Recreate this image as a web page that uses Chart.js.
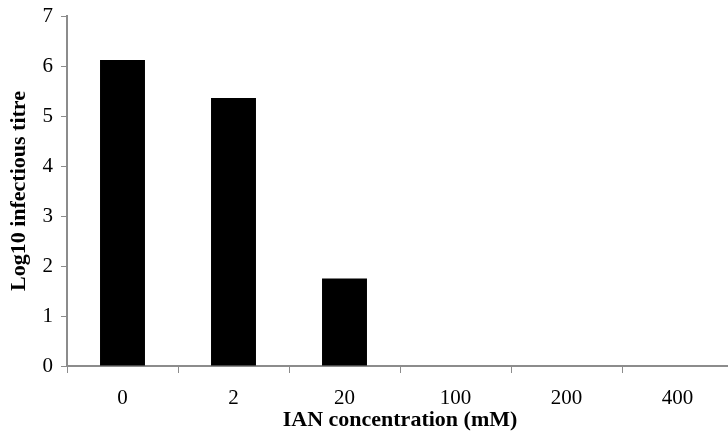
<!DOCTYPE html>
<html>
<head>
<meta charset="utf-8">
<script src="https://cdn.jsdelivr.net/npm/chart.js@4/dist/chart.umd.min.js"></script>
<style>
    html, body { margin: 0; padding: 0; background: #fff; overflow: hidden; }
    #wrap { width: 740px; height: 436px; }
</style>
</head>
<body>
<div id="wrap"><canvas id="titreChart" width="740" height="436"></canvas></div>
<script>
// Data
const concentrations = ['0', '2', '20', '100', '200', '400'];
const log10Titre = [6.12, 5.36, 1.75, 0, 0, 0];
const yTicks = [0, 1, 2, 3, 4, 5, 6, 7];

const axisGrey = '#8c8c8c';
const serif = "'Liberation Serif', 'Times New Roman', serif";

const config = {
    type: 'bar',
    data: {
        labels: concentrations,
        datasets: [{
            label: 'Log10 infectious titre',
            data: log10Titre,
            backgroundColor: '#000000',
            borderWidth: 0,
            barPercentage: 0.405,
            categoryPercentage: 1.0
        }]
    },
    options: {
        responsive: false,
        animation: false,
        layout: {
            padding: { top: 16, right: 7, bottom: 2, left: 6 }
        },
        plugins: {
            legend: { display: false },
            tooltip: { enabled: false }
        },
        scales: {
            x: {
                grid: {
                    display: true,
                    drawOnChartArea: false,
                    drawTicks: true,
                    tickLength: 7,
                    color: axisGrey,
                    offset: true
                },
                border: { color: axisGrey, width: 2 },
                ticks: {
                    color: '#000',
                    font: { family: serif, size: 21 },
                    padding: 13
                },
                title: {
                    display: true,
                    text: 'IAN concentration (mM)',
                    color: '#000',
                    font: { family: serif, size: 22, weight: 'bold' },
                    padding: { top: 0, bottom: 0 }
                },
                afterFit: scale => { scale.height = 68; }
            },
            y: {
                min: 0,
                max: 7,
                afterBuildTicks: scale => {
                    scale.ticks = yTicks.map(v => ({ value: v }));
                },
                grid: {
                    display: true,
                    drawOnChartArea: false,
                    drawTicks: true,
                    tickLength: 6,
                    color: axisGrey
                },
                border: { color: axisGrey, width: 2 },
                ticks: {
                    color: '#000',
                    font: { family: serif, size: 21 },
                    padding: 8
                },
                title: {
                    display: true,
                    text: 'Log10 infectious titre',
                    color: '#000',
                    font: { family: serif, size: 22, weight: 'bold' },
                    padding: { top: 0, bottom: 4 }
                },
                afterFit: scale => {
                    scale.width = 61;
                    scale.paddingTop = 0;
                    scale.paddingBottom = 0;
                }
            }
        }
    }
};

document.addEventListener('DOMContentLoaded', () => {
    const ctx = document.getElementById('titreChart').getContext('2d');
    new Chart(ctx, config);
});
</script>
</body>
</html>
